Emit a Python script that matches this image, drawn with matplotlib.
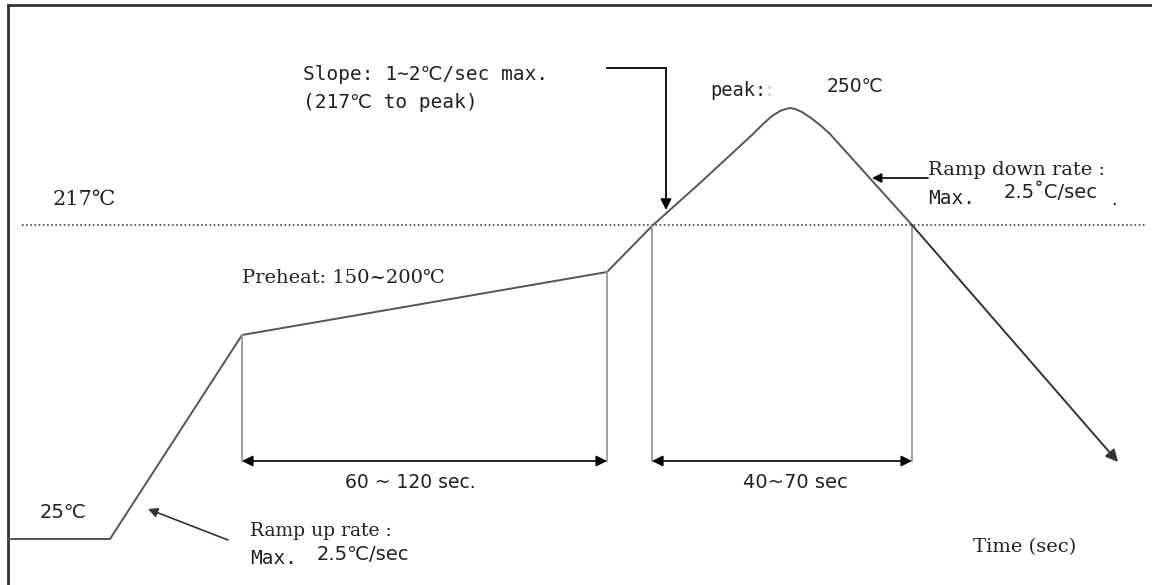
import matplotlib.pyplot as plt

# schematic reflow profile, drawn in diagram units (x: time, y: height from top)
profile_t = [8, 110, 242, 607, 652, 700, 753, 763, 772, 780, 786, 790, 795, 802, 811, 820, 830, 912]
profile_h = [539, 539, 335, 272, 226, 183, 134, 124, 116, 111, 109, 108, 109, 112, 118, 125, 134, 225]
cool_end = (1118, 462)

liquidus_h = 225
liquidus_span = (22, 1145)

# vertical markers: (x, top)
markers = [(242, 335), (607, 272), (652, 226), (912, 225)]
span_h = 461
spans = [(242, 607, "60 ~ 120 sec."), (652, 912, "40~70 sec")]

SERIF = ["DejaVu Serif", "Noto Sans CJK KR"]
MONO = ["DejaVu Sans Mono", "DejaVu Sans", "Noto Sans CJK KR"]
SANS = ["DejaVu Sans", "Noto Sans CJK KR"]

fig = plt.figure(figsize=(11.52, 5.85), dpi=100)
ax = fig.add_axes([0, 0, 1, 1])
ax.set_xlim(0, 1152)
ax.set_ylim(585, 0)
ax.axis("off")

# frame (only top and left edges are visible)
ax.plot([8, 1152], [5, 5], color="#333333", lw=2)
ax.plot([8, 8], [5, 585], color="#333333", lw=2)

# 217C dotted line
ax.plot(liquidus_span, [liquidus_h] * 2, color="#444444", lw=1.2, linestyle=(0, (1, 1.5)))

# profile
ax.plot(profile_t, profile_h, color="#555555", lw=1.4, solid_joinstyle="round")
ax.annotate("", xy=cool_end, xytext=(profile_t[-1], profile_h[-1]),
            arrowprops=dict(arrowstyle="-|>", color="#333333", lw=1.4, mutation_scale=18,
                            shrinkA=0, shrinkB=0))

for x, top in markers:
    ax.plot([x, x], [top, span_h], color="#999999", lw=1.3)

for x0, x1, label in spans:
    ax.annotate("", xy=(x0, span_h), xytext=(x1, span_h),
                arrowprops=dict(arrowstyle="<|-|>", color="black", lw=1.2, mutation_scale=16,
                                shrinkA=0, shrinkB=0))

txt = dict(color="#222222", va="center", ha="left")
ax.text(345, 482, spans[0][2], family=SANS, fontsize=13.5, **txt)
ax.text(743, 482, spans[1][2], family=SANS, fontsize=14, **txt)

# slope callout arrow
ax.plot([607, 666], [68, 68], color="black", lw=1.3)
ax.annotate("", xy=(666, 210), xytext=(666, 68),
            arrowprops=dict(arrowstyle="-|>", color="black", lw=1.3, mutation_scale=16,
                            shrinkA=0, shrinkB=0))
# ramp down arrow
ax.annotate("", xy=(872, 178), xytext=(928, 178),
            arrowprops=dict(arrowstyle="-|>", color="black", lw=1.2, mutation_scale=14,
                            shrinkA=0, shrinkB=0))
# ramp up arrow
ax.annotate("", xy=(148, 509), xytext=(228, 540),
            arrowprops=dict(arrowstyle="-|>", color="#333333", lw=1.2, mutation_scale=14,
                            shrinkA=0, shrinkB=0))

ax.text(53, 199, "217℃", family=SERIF, fontsize=15, **txt)
ax.text(303, 75, "Slope: 1~2℃/sec max.", family=MONO, fontsize=14, **txt)
ax.text(303, 102, "(217℃ to peak)", family=MONO, fontsize=14, **txt)
ax.text(710, 91, "peak:", family=MONO, fontsize=13.5, **txt)
ax.text(764, 91, ":", family=MONO, fontsize=13.5, color="#cccccc", va="center", ha="left")
ax.text(827, 86, "250℃", family=SANS, fontsize=13.5, **txt)
ax.text(928, 170, "Ramp down rate :", family=SERIF, fontsize=14, **txt)
ax.text(928, 198, "Max.", family=MONO, fontsize=14, **txt)
ax.text(1004, 192, "2.5˚C/sec", family=SANS, fontsize=14, **txt)
ax.text(1111, 200, ".", family=SANS, fontsize=13, **txt)
ax.text(242, 278, "Preheat: 150~200℃", family=SERIF, fontsize=14, **txt)
ax.text(40, 513, "25℃", family=SANS, fontsize=14, **txt)
ax.text(250, 531, "Ramp up rate :", family=SERIF, fontsize=13.5, **txt)
ax.text(250, 559, "Max.", family=MONO, fontsize=14, **txt)
ax.text(317, 555, "2.5℃/sec", family=SANS, fontsize=14, **txt)
ax.text(973, 547, "Time (sec)", family=SERIF, fontsize=14, **txt)

fig.savefig("out.png", dpi=100)
